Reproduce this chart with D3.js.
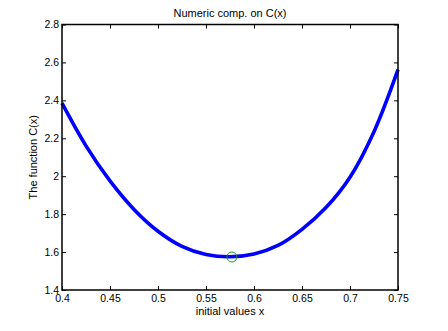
<!DOCTYPE html>
<html><head><meta charset="utf-8">
<script src="https://cdn.jsdelivr.net/npm/d3@7"></script>
<style>
html,body{margin:0;padding:0;background:#fff;}
svg{display:block;font-family:"Liberation Sans",Arial,Helvetica,sans-serif;}
</style></head>
<body>
<svg id="chart" width="448" height="331"></svg>
<script>
// data
const xValues = [0.400, 0.425, 0.450, 0.475, 0.500, 0.525, 0.550, 0.575, 0.600, 0.625, 0.650, 0.675, 0.700, 0.725, 0.750];
const cValues = [2.385, 2.160, 1.975, 1.825, 1.710, 1.630, 1.587, 1.575, 1.590, 1.635, 1.720, 1.835, 1.995, 2.235, 2.562];
const minPoint = [0.577, 1.574];
const xTicks = [0.4, 0.45, 0.5, 0.55, 0.6, 0.65, 0.7, 0.75];
const yTicks = [1.4, 1.6, 1.8, 2.0, 2.2, 2.4, 2.6, 2.8];
const titleText = "Numeric comp. on C(x)";
const xLabelText = "initial values x";
const yLabelText = "The function C(x)";

const svg = d3.select("#chart");
const m = {left: 62, right: 398, top: 24.5, bottom: 290};
const x = d3.scaleLinear().domain([0.4, 0.75]).range([m.left, m.right]);
const y = d3.scaleLinear().domain([1.4, 2.8]).range([m.bottom, m.top]);

const fmt = d => String(+d.toFixed(2));
const fs = "10.5px";

// axes (MATLAB style: ticks inward, on all four sides)
const gB = svg.append("g").attr("transform", `translate(0,${m.bottom})`)
  .call(d3.axisBottom(x).tickValues(xTicks).tickFormat(fmt).tickSizeInner(-4).tickSizeOuter(0).tickPadding(6));
const gT = svg.append("g").attr("transform", `translate(0,${m.top})`)
  .call(d3.axisTop(x).tickValues(xTicks).tickFormat("").tickSizeInner(-4).tickSizeOuter(0));
const gL = svg.append("g").attr("transform", `translate(${m.left},0)`)
  .call(d3.axisLeft(y).tickValues(yTicks).tickFormat(fmt).tickSizeInner(-4).tickSizeOuter(0).tickPadding(6));
const gR = svg.append("g").attr("transform", `translate(${m.right},0)`)
  .call(d3.axisRight(y).tickValues(yTicks).tickFormat("").tickSizeInner(-4).tickSizeOuter(0));
[gB, gT, gL, gR].forEach(g => {
  g.select(".domain").remove();
  g.selectAll(".tick line").attr("stroke", "#000").attr("stroke-width", 1);
  g.selectAll(".tick text").attr("fill", "#000").style("font-size", fs).style("font-family", '"Liberation Sans",Arial,sans-serif');
});
gB.selectAll(".tick text").attr("dy", "0.71em").attr("y", 5);
gL.selectAll(".tick text").attr("x", -3);

// curve
const line = d3.line().x((d, i) => x(xValues[i])).y(d => y(d)).curve(d3.curveCatmullRom.alpha(0.5));
svg.append("path").datum(cValues).attr("d", line)
  .attr("fill", "none").attr("stroke", "#0000ff").attr("stroke-width", 3.6).attr("stroke-linejoin", "round");

// box
svg.append("rect").attr("x", m.left).attr("y", m.top).attr("width", m.right - m.left).attr("height", m.bottom - m.top)
  .attr("fill", "none").attr("stroke", "#000").attr("stroke-width", 1.5);

// min marker
svg.append("circle").attr("cx", x(minPoint[0])).attr("cy", y(minPoint[1])).attr("r", 5)
  .attr("fill", "none").attr("stroke", "#1a9a1a").attr("stroke-width", 1);

// labels
svg.append("text").attr("x", (m.left + m.right) / 2).attr("y", 17).attr("text-anchor", "middle")
  .style("font-size", "11px").attr("fill", "#000").text(titleText);
svg.append("text").attr("x", (m.left + m.right) / 2).attr("y", 315).attr("text-anchor", "middle")
  .style("font-size", "11px").attr("fill", "#000").text(xLabelText);
svg.append("text").attr("transform", `translate(37,${(m.top + m.bottom) / 2}) rotate(-90)`).attr("text-anchor", "middle")
  .style("font-size", "11px").attr("fill", "#000").text(yLabelText);
</script>
</body></html>
